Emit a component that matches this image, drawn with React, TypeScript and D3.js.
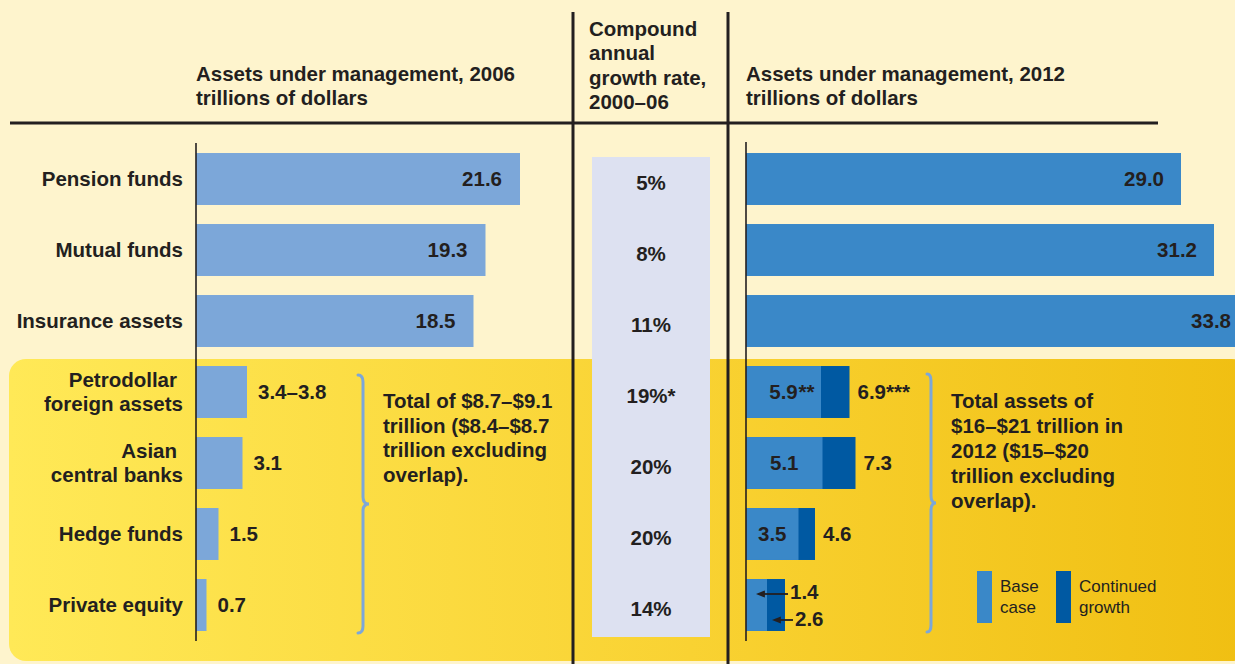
import React from "react";
import * as d3 from "d3";

const categories = [
  "Pension funds",
  "Mutual funds",
  "Insurance assets",
  "Petrodollar foreign assets",
  "Asian central banks",
  "Hedge funds",
  "Private equity",
];
const categoryLines = [
  ["Pension funds"],
  ["Mutual funds"],
  ["Insurance assets"],
  ["Petrodollar", "foreign assets"],
  ["Asian", "central banks"],
  ["Hedge funds"],
  ["Private equity"],
];
const assets2006 = [21.6, 19.3, 18.5, 3.4, 3.1, 1.5, 0.7];
const labels2006 = ["21.6", "19.3", "18.5", "3.4–3.8", "3.1", "1.5", "0.7"];
const growthRates = ["5%", "8%", "11%", "19%*", "20%", "20%", "14%"];
const base2012 = [29.0, 31.2, 33.8, 5.0, 5.1, 3.5, 1.4];
const baseLabels2012 = ["29.0", "31.2", "33.8", "5.9", "5.1", "3.5", "1.4"];
const baseSuffix2012 = ["", "", "", "**", "", "", ""];
const growth2012: (number | null)[] = [null, null, null, 6.9, 7.3, 4.6, 2.6];
const growthLabels2012 = ["", "", "", "6.9***", "7.3", "4.6", "2.6"];
const header2006 = ["Assets under management, 2006", "trillions of dollars"];
const headerRate = ["Compound", "annual", "growth rate,", "2000–06"];
const header2012 = ["Assets under management, 2012", "trillions of dollars"];
const note2006 = ["Total of $8.7–$9.1", "trillion ($8.4–$8.7", "trillion excluding", "overlap)."];
const note2012 = ["Total assets of", "$16–$21 trillion in", "2012 ($15–$20", "trillion excluding", "overlap)."];
const legendItems = [
  { lines: ["Base", "case"], color: "#3A88C8" },
  { lines: ["Continued", "growth"], color: "#0059A2" },
];

const W = 1235;
const H = 664;
const INK = "#231F20";
const FONT = "'Liberation Sans', Arial, Helvetica, sans-serif";
const FS = 20.5;

export default function App() {
  const y = d3
    .scaleBand<string>()
    .domain(categories)
    .range([143.5, 640.5])
    .paddingInner(0.268)
    .paddingOuter(0.134);
  const xL = d3.scaleLinear().domain([0, 30]).range([196, 646]);
  const xR = d3.scaleLinear().domain([0, 30]).range([746, 1196]);
  const bw = y.bandwidth();
  const mid = (c: string) => (y(c) as number) + bw / 2;

  const brace = (x0: number, x1: number, x2: number, y1: number, ym: number, y2: number) => {
    const r = 7;
    return `M${x0},${y1} Q${x1},${y1} ${x1},${y1 + r} L${x1},${ym - r} Q${x1},${ym} ${x2},${ym} Q${x1},${ym} ${x1},${ym + r} L${x1},${y2 - r} Q${x1},${y2} ${x0},${y2}`;
  };

  return (
    <svg
      width={W}
      height={H}
      style={{ position: "absolute", left: 0, top: 0, fontFamily: FONT }}
    >
      <defs>
        <linearGradient id="panel" x1="0" x2="1" y1="0" y2="0">
          <stop offset="0" stopColor="#FFE957" />
          <stop offset="0.55" stopColor="#F9D232" />
          <stop offset="1" stopColor="#F0BF12" />
        </linearGradient>
        <marker id="arr" viewBox="0 0 10 10" refX="1" refY="5" markerWidth="9" markerHeight="9" orient="auto-start-reverse" markerUnits="userSpaceOnUse">
          <path d="M0,1 L10,5 L0,9 Z" fill={INK} />
        </marker>
      </defs>
      <rect x={0} y={0} width={W} height={H} fill="#FEF4CD" />
      <rect x={9} y={359} width={1240} height={302} rx={17} fill="url(#panel)" />

      {/* growth-rate column background */}
      <rect x={592} y={157} width={118} height={480} fill="#DDE1F1" />

      {/* header rules */}
      <line x1={10} x2={1158} y1={123} y2={123} stroke={INK} strokeWidth={3} />
      <line x1={573} x2={573} y1={12} y2={H} stroke={INK} strokeWidth={3} />
      <line x1={728} x2={728} y1={12} y2={H} stroke={INK} strokeWidth={3} />

      {/* headers */}
      <g fill={INK} fontWeight="bold" fontSize={FS}>
        {header2006.map((t, i) => (
          <text key={"h6" + i} x={196} y={81 + i * 24}>{t}</text>
        ))}
        {headerRate.map((t, i) => (
          <text key={"hr" + i} x={589} y={36 + i * 24.3}>{t}</text>
        ))}
        {header2012.map((t, i) => (
          <text key={"h12" + i} x={746} y={81 + i * 24}>{t}</text>
        ))}
      </g>

      {/* category labels */}
      <g fill={INK} fontWeight="bold" fontSize={FS} textAnchor="end">
        {categories.map((c, i) => {
          const lines = categoryLines[i];
          const m = mid(c);
          if (lines.length === 1)
            return <text key={c} x={183} y={m + 7}>{lines[0]}</text>;
          return (
            <g key={c}>
              <text x={177} y={m - 5.5}>{lines[0]}</text>
              <text x={183} y={m + 18.5}>{lines[1]}</text>
            </g>
          );
        })}
      </g>

      {/* 2006 bars */}
      {categories.map((c, i) => (
        <rect key={"b6" + c} x={xL(0)} y={y(c)} width={xL(assets2006[i]) - xL(0)} height={bw} fill="#7CA7D9" />
      ))}
      <line x1={xL(0)} x2={xL(0)} y1={143} y2={641} stroke={INK} strokeWidth={1.6} />
      <g fill={INK} fontWeight="bold" fontSize={FS}>
        {categories.map((c, i) => {
          const v = assets2006[i];
          const inside = v > 10;
          return (
            <text key={"l6" + c} x={inside ? xL(v) - 18 : xL(v) + 11} y={mid(c) + 7} textAnchor={inside ? "end" : "start"}>
              {labels2006[i]}
            </text>
          );
        })}
      </g>

      {/* growth rates */}
      <g fill={INK} fontWeight="bold" fontSize={FS} textAnchor="middle">
        {categories.map((c, i) => (
          <text key={"g" + c} x={651} y={mid(c) + 11}>{growthRates[i]}</text>
        ))}
      </g>

      {/* 2012 bars */}
      {categories.map((c, i) => {
        const g = growth2012[i];
        return (
          <g key={"b12" + c}>
            {g !== null && (
              <rect x={xR(0)} y={y(c)} width={xR(g) - xR(0)} height={bw} fill="#0059A2" />
            )}
            <rect x={xR(0)} y={y(c)} width={xR(base2012[i]) - xR(0)} height={bw} fill="#3A88C8" />
          </g>
        );
      })}
      <line x1={xR(0)} x2={xR(0)} y1={142} y2={641} stroke={INK} strokeWidth={1.6} />
      <g fill={INK} fontWeight="bold" fontSize={FS}>
        {categories.map((c, i) => {
          const v = base2012[i];
          const g = growth2012[i];
          const m = mid(c);
          if (g === null) {
            return (
              <text key={"l12" + c} x={Math.min(xR(v) - 17, W - 4)} y={m + 7} textAnchor="end">
                {baseLabels2012[i]}
              </text>
            );
          }
          if (i === categories.length - 1) {
            const xb = xR(v);
            const xg = xR(g);
            return (
              <g key={"l12" + c}>
                <line x1={xb + 21} x2={xb - 3} y1={m - 11} y2={m - 11} stroke={INK} strokeWidth={1.8} markerEnd="url(#arr)" />
                <text x={xb + 23} y={m - 6}>{baseLabels2012[i]}</text>
                <line x1={xg + 8} x2={xg - 5} y1={m + 15} y2={m + 15} stroke={INK} strokeWidth={1.8} markerEnd="url(#arr)" />
                <text x={xg + 10} y={m + 21}>{growthLabels2012[i]}</text>
              </g>
            );
          }
          const cx = (xR(0) + xR(v)) / 2;
          return (
            <g key={"l12" + c}>
              <text x={cx} y={m + 7} textAnchor="middle">{baseLabels2012[i]}</text>
              {baseSuffix2012[i] && (
                <text x={cx + 15} y={m + 7}>{baseSuffix2012[i]}</text>
              )}
              <text x={xR(g) + 8} y={m + 7}>{growthLabels2012[i]}</text>
            </g>
          );
        })}
      </g>

      {/* braces */}
      <path d={brace(358, 363, 369, 375, 504, 633)} fill="none" stroke="#7CA7D9" strokeWidth={3} strokeLinecap="round" />
      <path d={brace(927, 931, 936, 374, 503, 632)} fill="none" stroke="#7CA7D9" strokeWidth={3} strokeLinecap="round" />

      <g fill={INK} fontWeight="bold" fontSize={FS}>
        {note2006.map((t, i) => (
          <text key={"n6" + i} x={383} y={408 + i * 24.5}>{t}</text>
        ))}
        {note2012.map((t, i) => (
          <text key={"n12" + i} x={951} y={408 + i * 25}>{t}</text>
        ))}
      </g>

      {/* legend */}
      {legendItems.map((it, i) => {
        const x0 = 977 + i * 79;
        return (
          <g key={"lg" + i}>
            <rect x={x0} y={571} width={15} height={52} fill={it.color} />
            {it.lines.map((t, j) => (
              <text key={j} x={x0 + 23} y={592 + j * 20.5} fontSize={17} fill={INK}>{t}</text>
            ))}
          </g>
        );
      })}
    </svg>
  );
}
